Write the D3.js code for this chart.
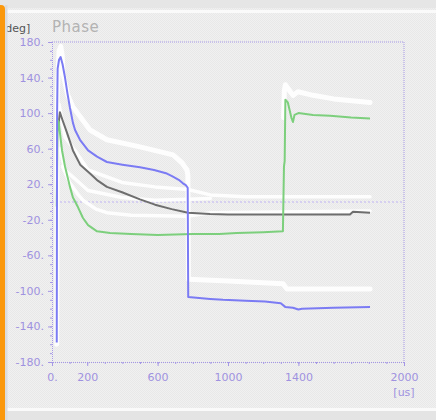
<!DOCTYPE html>
<html><head><meta charset="utf-8">
<script src="https://cdn.jsdelivr.net/npm/d3@7"></script>
<style>html,body{margin:0;padding:0;background:#eeeeee;overflow:hidden}</style>
</head><body>
<script>
// ---- data (time in us, phase in deg) ----
const xTickValues = [0, 200, 600, 1000, 1400, 2000];
const xTickLabels = ["0.", "200", "600", "1000", "1400", "2000"];
const yTickValues = [180, 140, 100, 60, 20, -20, -60, -100, -140, -180];
const yTickLabels = ["180.", "140.", "100.", "60.", "20.", "-20.", "-60.", "-100.", "-140.", "-180."];

const bluePhase = [[27,-158],[29,100],[32,150],[40,160],[49,163],[60,155],[74,140],[88,122],[102,106],[119,89],[131,81],[159,70],[205,58],[256,51],[312,45],[400,42],[500,39],[580,36],[653,32],[682,29],[720,25],[744,21],[760,19],[771,16],[774,-107],[898,-109],[972,-110],[1100,-111],[1210,-112],[1300,-114],[1325,-118],[1369,-119],[1400,-121],[1420,-120],[1600,-119],[1807,-118]];
const grayPhase = [[36,85],[45,101],[60,92],[85,78],[119,58],[160,42],[216,32],[260,24],[312,17],[398,11],[500,3],[585,-3],[680,-8],[773,-12],[898,-13.5],[1000,-14],[1693,-14],[1710,-11],[1807,-12]];
const greenPhase = [[27,-5],[30,60],[33,92],[38,90],[45,78],[57,58],[74,40],[102,17],[119,5],[148,-6],[176,-18],[205,-26],[256,-33],[330,-35],[450,-36],[600,-37],[800,-36],[950,-36],[1050,-35],[1200,-34],[1312,-33],[1318,40],[1322,46],[1326,115],[1340,112],[1360,95],[1369,90],[1378,98],[1400,100],[1483,98],[1580,97],[1700,95],[1807,94]];

const whiteTrace1 = [[27,-160],[30,120],[40,170],[50,175],[58,165],[62,145],[90,120],[119,107],[216,81],[312,70],[500,62],[688,53],[739,44],[767,36],[772,30],[775,-87],[1000,-89],[1313,-92],[1335,-98],[1807,-98]];
const whiteTrace2 = [[40,110],[74,73],[131,58],[205,36],[398,22],[585,17],[773,14],[900,8],[1100,6],[1807,6]];
const whiteTrace3 = [[45,60],[74,36],[205,13],[398,5],[585,2],[773,3],[900,4]];
const whiteTrace4 = [[60,40],[100,22],[150,8],[176,2],[250,-8],[312,-12],[450,-15],[767,-16],[900,-12],[1807,-10]];
const whiteTrace5 = [[1316,95],[1320,125],[1326,132],[1340,128],[1369,120],[1398,124],[1483,120],[1600,116],[1807,112]];

// ---- drawing ----
const W = 436, H = 420;
const svg = d3.select("body").append("svg").attr("width", W).attr("height", H)
  .style("display", "block");

const defs = svg.append("defs");
const pat = defs.append("pattern").attr("id", "bg").attr("width", 2).attr("height", 2)
  .attr("patternUnits", "userSpaceOnUse");
pat.append("rect").attr("width", 2).attr("height", 2).attr("fill", "#f1f1f1");
pat.append("rect").attr("width", 1).attr("height", 1).attr("fill", "#e8e8e8");
pat.append("rect").attr("x", 1).attr("y", 1).attr("width", 1).attr("height", 1).attr("fill", "#e8e8e8");

svg.append("rect").attr("width", W).attr("height", H).attr("fill", "url(#bg)");
// top band and separators
svg.append("rect").attr("x", 0).attr("y", 0).attr("width", W).attr("height", 8).attr("fill", "#e6e6e6");
svg.append("rect").attr("x", 0).attr("y", 10).attr("width", W).attr("height", 3).attr("fill", "#fafafa");
svg.append("rect").attr("x", 0).attr("y", 408).attr("width", W).attr("height", 3).attr("fill", "#fafafa");
svg.append("rect").attr("x", 0).attr("y", 411).attr("width", W).attr("height", 9).attr("fill", "#e4e4e4");

const x = d3.scaleLinear().domain([0, 2000]).range([52, 404]);
const y = d3.scaleLinear().domain([-180, 180]).range([362, 42]);
const axisCol = "#a597e6";
const labelCol = "#9f92e0";

// title + unit
svg.append("text").attr("x", 1).attr("y", 32).text("[deg]")
  .attr("font-family", "DejaVu Sans, sans-serif").attr("font-size", 11).attr("fill", "#555");
svg.append("text").attr("x", 52).attr("y", 32).text("Phase")
  .attr("font-family", "DejaVu Sans, sans-serif").attr("font-size", 15).attr("fill", "#b3b3b3")
  .attr("letter-spacing", 0.5);

// zero dotted line
svg.append("line").attr("x1", x(0)).attr("x2", x(2000)).attr("y1", y(0)).attr("y2", y(0))
  .attr("stroke", "#d6d0f0").attr("stroke-width", 2).attr("stroke-dasharray", "2,2");

// frame (top & right dotted)
svg.append("line").attr("x1", x(0)).attr("x2", x(2000)).attr("y1", y(180)).attr("y2", y(180))
  .attr("stroke", axisCol).attr("stroke-dasharray", "1,1");
svg.append("line").attr("x1", x(2000)).attr("x2", x(2000)).attr("y1", y(180)).attr("y2", y(-180))
  .attr("stroke", axisCol).attr("stroke-dasharray", "1,1");

// axes
const yMinor = d3.range(-180, 181, 10);
const yAx = svg.append("g").attr("transform", `translate(${x(0)},0)`)
  .call(d3.axisLeft(y).tickValues(yMinor).tickSize(2).tickFormat(""));
const yMaj = svg.append("g").attr("transform", `translate(${x(0)},0)`)
  .call(d3.axisLeft(y).tickValues(yTickValues).tickSize(4).tickPadding(4)
    .tickFormat((d, i) => yTickLabels[i]));
const xMinor = d3.range(0, 2001, 100);
const xAx = svg.append("g").attr("transform", `translate(0,${y(-180)})`)
  .call(d3.axisBottom(x).tickValues(xMinor).tickSize(2).tickFormat(""));
const xMaj = svg.append("g").attr("transform", `translate(0,${y(-180)})`)
  .call(d3.axisBottom(x).tickValues(xTickValues).tickSize(4).tickPadding(7)
    .tickFormat((d, i) => xTickLabels[i]));
[yAx, yMaj, xAx, xMaj].forEach(g => {
  g.selectAll("path.domain").attr("stroke", axisCol).attr("stroke-dasharray", "1,1");
  g.selectAll(".tick line").attr("stroke", axisCol);
  g.selectAll("text").attr("fill", labelCol).attr("font-family", "DejaVu Sans, sans-serif")
    .attr("font-size", 11);
});
svg.append("text").attr("x", x(2000)).attr("y", 396).attr("text-anchor", "middle")
  .text("[us]").attr("font-family", "DejaVu Sans, sans-serif").attr("font-size", 11).attr("fill", labelCol);

// traces
const line = d3.line().x(d => x(d[0])).y(d => y(d[1]));
const whites = [whiteTrace1, whiteTrace2, whiteTrace3, whiteTrace4, whiteTrace5];
svg.selectAll("path.white").data(whites).join("path").attr("class", "white")
  .attr("d", line).attr("fill", "none").attr("stroke", "#ffffff")
  .attr("stroke-width", (d, i) => (i === 0 || i === 4) ? 5 : 3.5)
  .attr("stroke-linejoin", "round").attr("stroke-linecap", "round").attr("opacity", 0.9);

const series = [
  { data: grayPhase, color: "#6e6e6e" },
  { data: greenPhase, color: "#7ccf7c" },
  { data: bluePhase, color: "#7b7bf4" }
];
svg.selectAll("path.trace").data(series).join("path").attr("class", "trace")
  .attr("d", d => line(d.data)).attr("fill", "none").attr("stroke", d => d.color)
  .attr("stroke-width", 2).attr("stroke-linejoin", "round");

// left orange bar
svg.append("rect").attr("x", 5).attr("y", 5).attr("width", 2.5).attr("height", H - 5).attr("fill", "#dcdcdc");
svg.append("path").attr("d", "M0,5 L1,5 Q5,5 5,9 L5,420 L0,420 Z").attr("fill", "#fb980c");
</script>
</body></html>
